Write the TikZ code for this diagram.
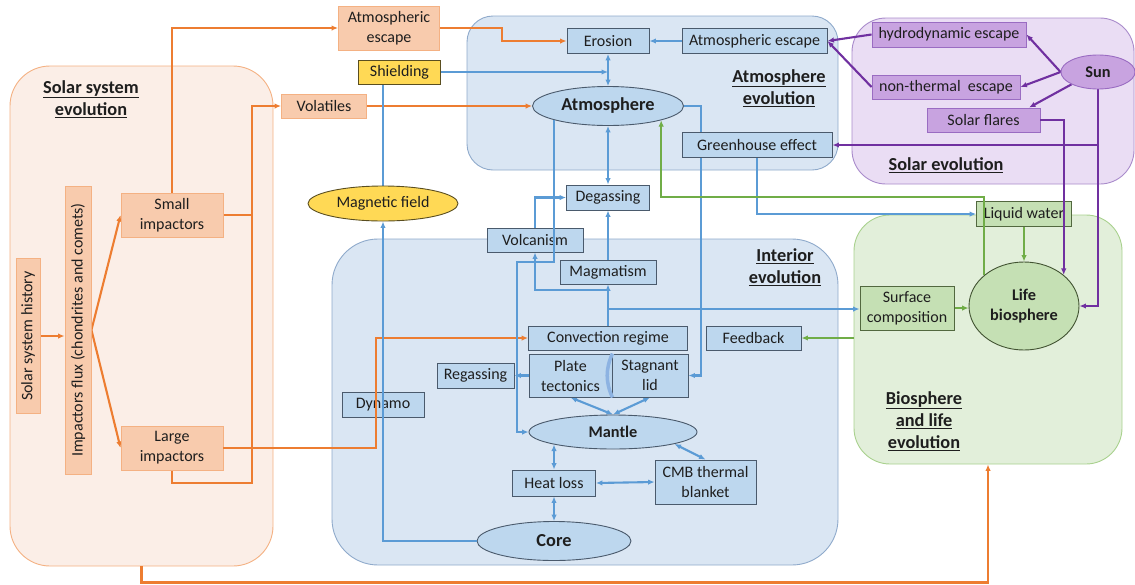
\documentclass[tikz,border=0pt]{standalone}
\usepackage{fontspec}
\setmainfont{Carlito}
\usetikzlibrary{arrows.meta,shapes.geometric,calc}
\pgfdeclarelayer{bg}
\pgfdeclarelayer{lines}
\pgfdeclarelayer{front}
\pgfsetlayers{bg,lines,main,front}
\definecolor{txt}{HTML}{1E1E1E}
\definecolor{orline}{HTML}{ED7D31}
\definecolor{orfill}{HTML}{F8CBAD}
\definecolor{ordraw}{HTML}{F4B183}
\definecolor{ssregfill}{HTML}{FBEEE7}
\definecolor{blline}{HTML}{5B9BD5}
\definecolor{blfill}{HTML}{BDD7EE}
\definecolor{bldraw}{HTML}{4A5A6C}
\definecolor{blregfill}{HTML}{DAE6F3}
\definecolor{blregdraw}{HTML}{8FAACB}
\definecolor{puline}{HTML}{7030A0}
\definecolor{pufill}{HTML}{C8A3E0}
\definecolor{pudraw}{HTML}{9A6CC2}
\definecolor{puregfill}{HTML}{EADDF4}
\definecolor{puregdraw}{HTML}{A98BCB}
\definecolor{grline}{HTML}{70AD47}
\definecolor{grfill}{HTML}{C5E0B4}
\definecolor{grdraw}{HTML}{52683F}
\definecolor{grregfill}{HTML}{E2EFDA}
\definecolor{grregdraw}{HTML}{A9D18E}
\definecolor{yefill}{HTML}{FFD955}
\definecolor{yedraw}{HTML}{5A4E20}
\definecolor{sepcol}{HTML}{8DB3E2}
\newcommand{\nf}{\fontsize{16}{20}\selectfont}
\newcommand{\bff}{\fontsize{16.3}{20}\selectfont\bfseries}
\newcommand{\bigbf}{\fontsize{18.3}{22}\selectfont\bfseries}
\newcommand{\tf}{\fontsize{18.3}{22}\selectfont\bfseries}
\begin{document}
\begin{tikzpicture}[x=1pt,y=-1pt,
  box/.style={rectangle, inner sep=0pt, align=center, font=\nf, text=txt, line width=0.9pt},
  obox/.style={box, fill=orfill, draw=ordraw},
  bbox/.style={box, fill=blfill, draw=bldraw},
  pbox/.style={box, fill=pufill, draw=pudraw},
  gbox/.style={box, fill=grfill, draw=grdraw},
  ybox/.style={box, fill=yefill, draw=yedraw},
  ell/.style={ellipse, inner sep=0pt, align=center, text=txt, line width=0.9pt},
  regstyle/.style={rectangle, inner sep=0pt, line width=0.9pt, rounded corners=#1},
  title/.style={font=\tf, align=center, text=txt},
  arr/.style={-{Latex[length=6.5pt,width=5.5pt]}},
  darr/.style={{Latex[length=6.5pt,width=5.5pt]}-{Latex[length=6.5pt,width=5.5pt]}},
  ol/.style={draw=orline, line width=2.1pt},
  bl/.style={draw=blline, line width=2.1pt},
  pl/.style={draw=puline, line width=2.1pt},
  gl/.style={draw=grline, line width=2.1pt}]
\useasboundingbox (0,0) rectangle (1135,584);

% ---------- regions ----------
\begin{pgfonlayer}{bg}
\node[regstyle=40pt, fill=ssregfill, draw=ordraw, minimum width=263pt, minimum height=500pt] (ssreg) at (141.5,316) {};
\node[regstyle=26pt, fill=blregfill, draw=blregdraw, minimum width=371pt, minimum height=154pt] (atmreg) at (652.5,93) {};
\node[regstyle=34pt, fill=puregfill, draw=puregdraw, minimum width=282pt, minimum height=166pt] (solreg) at (993,101) {};
\node[regstyle=46pt, fill=blregfill, draw=blregdraw, minimum width=506pt, minimum height=326pt] (intreg) at (585,402) {};
\node[regstyle=36pt, fill=grregfill, draw=grregdraw, minimum width=268pt, minimum height=249pt] (bioreg) at (988,339.5) {};
\node[title] (tss) at (91,99) {\underline{Solar system}\\\underline{evolution}};
\node[title] (tatm) at (779,88) {\underline{Atmosphere}\\\underline{evolution}};
\node[title] (tsol) at (946,165) {\underline{Solar evolution}};
\node[title] (tint) at (785,267) {\underline{Interior}\\\underline{evolution}};
\node[title] (tbio) at (924,421) {\underline{Biosphere}\\\underline{and life}\\\underline{evolution}};
\end{pgfonlayer}

% ---------- nodes ----------
\node[obox, rotate=90, minimum width=155pt, minimum height=24pt] (ssh) at (28,336) {Solar system history};
\node[obox, rotate=90, minimum width=288pt, minimum height=26pt] (flux) at (78,330) {Impactors flux (chondrites and comets)};
\node[obox, minimum width=102pt, minimum height=44pt] (smallimp) at (172,215) {Small\\impactors};
\node[obox, minimum width=102pt, minimum height=44pt] (largeimp) at (172,448) {Large\\impactors};
\node[obox, minimum width=101pt, minimum height=44pt] (atmor) at (389,28) {Atmospheric\\escape};
\node[ybox, minimum width=82pt, minimum height=24pt] (shield) at (399.5,72) {Shielding};
\node[obox, minimum width=85pt, minimum height=24pt] (volat) at (324,106) {Volatiles};
\node[ell, fill=yefill, draw=yedraw, minimum width=150pt, minimum height=35pt, font=\nf] (mag) at (383,203.5) {Magnetic field};

\node[bbox, minimum width=82pt, minimum height=25pt] (eros) at (608,41) {Erosion};
\node[bbox, minimum width=145pt, minimum height=25pt] (atmescb) at (754.5,41) {Atmospheric escape};
\node[ell, fill=blfill, draw=bldraw, minimum width=151pt, minimum height=39pt, font=\bigbf] (atm) at (608,106) {Atmosphere};
\node[bbox, minimum width=150pt, minimum height=25pt] (greenh) at (757,145) {Greenhouse effect};
\node[bbox, minimum width=83pt, minimum height=25pt] (degas) at (608,197.5) {Degassing};
\node[bbox, minimum width=96pt, minimum height=24pt] (volc) at (535,240) {Volcanism};
\node[bbox, minimum width=96pt, minimum height=24pt] (magm) at (608,272) {Magmatism};
\node[bbox, minimum width=159pt, minimum height=24pt] (conv) at (608,338) {Convection regime};
\node[bbox, minimum width=83pt, minimum height=43pt] (plate) at (570.5,375.5) {Plate\\tectonics};
\node[bbox, minimum width=76pt, minimum height=43pt] (stag) at (650,375.5) {Stagnant\\lid};
\draw[sepcol, line width=3.5pt] (plate.north east) .. controls ($(plate.north east)+(-7,15)$) and ($(plate.south east)+(-7,-15)$) .. (plate.south east);
\node[bbox, minimum width=77pt, minimum height=25pt] (regass) at (475.5,375.5) {Regassing};
\node[bbox, minimum width=82pt, minimum height=25pt] (dynamo) at (383,404.5) {Dynamo};
\node[ell, fill=blfill, draw=bldraw, minimum width=168pt, minimum height=34pt, font=\bff] (mantle) at (613,432) {Mantle};
\node[bbox, minimum width=83pt, minimum height=26pt] (heat) at (554,483) {Heat loss};
\node[bbox, minimum width=101pt, minimum height=44pt] (cmb) at (705.5,482) {CMB thermal\\blanket};
\node[ell, fill=blfill, draw=bldraw, minimum width=154pt, minimum height=39pt, font=\bigbf] (core) at (554,541) {Core};
\node[bbox, minimum width=95pt, minimum height=24pt] (feed) at (753.5,338) {Feedback};

\node[gbox, minimum width=94pt, minimum height=44pt] (surf) at (907,308) {Surface\\composition};
\node[gbox, minimum width=95pt, minimum height=25pt] (liqw) at (1024,214) {Liquid water};
\node[ell, fill=grfill, draw=grdraw!80!black, minimum width=110pt, minimum height=88pt, font=\bff] (life) at (1024,306) {Life\\biosphere};

\node[pbox, minimum width=154pt, minimum height=25pt] (hydro) at (949,34.5) {hydrodynamic escape};
\node[pbox, minimum width=148pt, minimum height=24pt] (nonth) at (946,87) {non-thermal\ \ escape};
\node[pbox, minimum width=113pt, minimum height=24pt] (flares) at (983.5,120) {Solar flares};
\node[ell, fill=pufill, draw=pudraw, minimum width=74pt, minimum height=34pt, font=\bff] (sun) at (1098,72) {Sun};

% ---------- connectors behind nodes ----------
\begin{pgfonlayer}{lines}
% orange
\draw[ol,arr] (ssh.south) -- (ssh.south -| flux.north);
\draw[ol,arr] (flux.south) -- (smallimp.west);
\draw[ol,arr] (flux.south) -- (largeimp.west);
\draw[ol,arr] (smallimp.north) |- (atmor.west);
\coordinate (vb) at (252,483);
\draw[ol,arr] (largeimp.south) |- (vb) |- (volat.west);
\draw[ol] (smallimp.east) -- (smallimp.east -| vb);
\coordinate (ea) at (502,35);
\draw[ol,arr] (atmor.east) -| (ea) |- (eros.west);
\draw[ol,arr] (volat.east) -- (atm.west);
\draw[ol,arr] (ssreg.south) -- ++(0,16) -| (bioreg.south);
% blue
\draw[bl,arr] (atmescb.west) -- (eros.east);
\draw[bl,darr] (eros.south) -- (eros.south |- atm.north);
\draw[bl,arr] (shield.east) -- (shield.east -| eros.south);
\draw[bl,darr] (atm.south) -- (atm.south |- degas.north);
\draw[bl,arr] (volc.north) |- (degas.west);
\draw[bl,arr] (magm.north) -- (magm.north |- degas.south);
\draw[bl,arr] (conv.north) -- (conv.north |- magm.south);
\coordinate (j1) at (608,290);
\coordinate (j2) at (608,309);
\draw[bl,arr] (j1) -| (volc.south);
\draw[bl,arr] (j2) -- (j2 -| surf.west);
\coordinate (ax) at (701,200);
\draw[bl,arr] (atm.east) -| (ax) |- (stag.east);
\draw[bl,arr] (plate.west) -- (plate.west -| regass.east);
\draw[bl,darr] (plate.south) -- (mantle.north);
\draw[bl,darr] (stag.south) -- (mantle.north);
\draw[bl,darr] (heat.north) -- (heat.north |- mantle.192);
\draw[bl,darr] (heat.south) -- (heat.south |- core.north);
\draw[bl,darr] (heat.east) -- (cmb.west);
\draw[bl,darr] (mantle.349) -- (cmb.north);
\draw[bl] (mag.north) -- (mag.north |- shield.south);
\draw[bl,arr] (greenh.south) |- (liqw.west);
% purple
\draw[pl,arr] (sun.west) -- (hydro.east);
\draw[pl,arr] (sun.west) -- (nonth.east);
\draw[pl,arr] (sun.south west) -- ($(flares.north east)!0.1!(flares.north west)$);
\draw[pl,arr] (hydro.west) -- (atmescb.east);
\draw[pl,arr] (nonth.west) -- (atmescb.east);
\draw[pl,arr] (sun.south) |- (life.east);
\draw[pl,arr] (sun.south |- greenh.east) -- (greenh.east);
% green
\draw[gl,arr] (liqw.south) -- (life.north);
\draw[gl,arr] (surf.east) -- (surf.east -| life.west);
\draw[gl,arr] (feed.east -| bioreg.west) -- (feed.east);
\end{pgfonlayer}

% ---------- connectors over nodes ----------
\begin{pgfonlayer}{front}
\coordinate (ob) at (376,400);
\draw[ol,arr] (largeimp.east) -| (ob) |- (conv.west);
\draw[bl,arr] (core.west) -| (mag.south);
\coordinate (am) at (517,262);
\draw[bl,arr] (atm.south west) |- (am) |- (mantle.west);
\coordinate (gc) at (800,197);
\draw[gl,arr] (life.142) |- (gc) -| (atm.345);
\draw[pl,arr] (flares.east) -| (life.38);
\end{pgfonlayer}
\end{tikzpicture}
\end{document}
